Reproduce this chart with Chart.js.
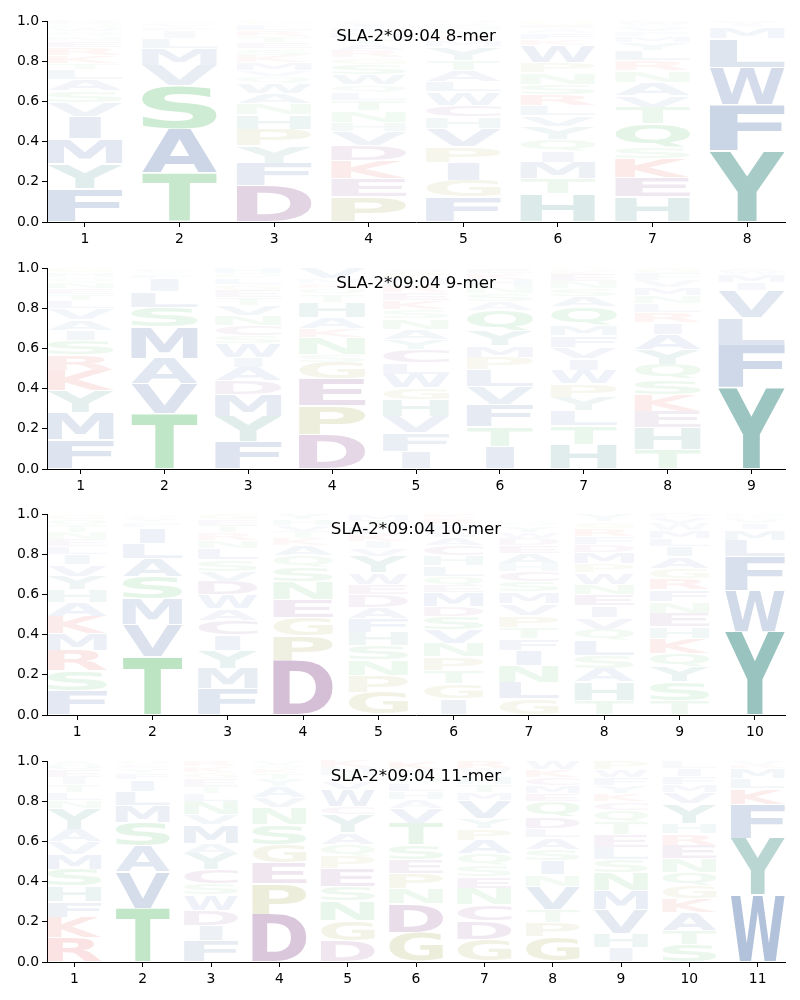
<!DOCTYPE html>
<html><head><meta charset="utf-8">
<script src="https://cdn.jsdelivr.net/npm/chart.js@4.4.0/dist/chart.umd.min.js"></script>
<style>
body{margin:0;background:#fff;width:800px;height:1000px;position:relative;overflow:hidden}
canvas{position:absolute;left:0}
</style></head>
<body>
<canvas id="c1" width="800" height="250" style="top:0px"></canvas>
<canvas id="c2" width="800" height="250" style="top:247px"></canvas>
<canvas id="c3" width="800" height="250" style="top:493px"></canvas>
<canvas id="c4" width="800" height="250" style="top:740px"></canvas>
<script>
// ---------- DATA (letters bottom -> top, heights = probability) ----------
const titles = ["SLA-2*09:04 8-mer", "SLA-2*09:04 9-mer", "SLA-2*09:04 10-mer", "SLA-2*09:04 11-mer"];
const yTickValues = [0, 0.2, 0.4, 0.6, 0.8, 1.0];

const letters8 = [
  "FYMIVSALTKRENQWHGD",
  "TASVMLIFYCQW",
  "DFYPHNAWQVMKSETRLG",
  "PEKDVHNTLQWSGRAYMFIC",
  "FGIPVHCWLATYMRSNEQ",
  "HTMIQYVLRSNPWKFAEG",
  "HEKSQTVANRLYMFVWG",
  "YFWLMIVK"
];
const heights8 = [
  [.166,.124,.124,.11,.07,.058,.058,.05,.03,.04,.04,.03,.025,.02,.02,.015,.01,.01],
  [.245,.22,.215,.10,.083,.05,.035,.015,.012,.01,.008,.007],
  [.18,.113,.086,.083,.07,.058,.05,.05,.033,.03,.04,.035,.035,.03,.03,.03,.03,.017],
  [.124,.09,.09,.078,.07,.045,.055,.05,.04,.04,.05,.05,.035,.035,.03,.03,.03,.025,.02,.013],
  [.124,.083,.088,.078,.09,.058,.06,.066,.05,.058,.05,.066,.03,.025,.025,.02,.015,.014],
  [.14,.075,.08,.058,.058,.066,.05,.05,.058,.05,.058,.05,.083,.03,.03,.025,.02,.019],
  [.124,.095,.095,.058,.116,.083,.06,.064,.058,.05,.05,.04,.03,.025,.025,.017,.01],
  [.353,.229,.187,.144,.055,.015,.01,.007]
];

const letters9 = [
  "FMYKRSIAVLTENQHG",
  "TVAMSLIFYCQ",
  "FYMDAIWSCNVTEGLQH",
  "DPEGSNKAHTQRMV",
  "IFVHGWLCYANSKERMPQ",
  "ITFVLPMYQASNHKE",
  "HTLYPWIVFMQASNEKG",
  "THEKSQYAIRLNMVFG",
  "YFLVIMWA"
];
const heights9 = [
  [.147,.133,.108,.1,.078,.075,.05,.05,.055,.04,.03,.03,.03,.025,.025,.024],
  [.275,.15,.125,.155,.1,.078,.062,.02,.015,.01,.01],
  [.138,.125,.108,.067,.067,.05,.067,.04,.05,.05,.05,.04,.035,.03,.03,.025,.028],
  [.172,.142,.133,.083,.04,.083,.045,.055,.075,.04,.03,.025,.022,.055],
  [.088,.092,.083,.083,.058,.067,.058,.067,.05,.05,.05,.045,.045,.04,.035,.035,.03,.024],
  [.113,.097,.108,.092,.083,.062,.058,.075,.1,.045,.04,.035,.035,.03,.027],
  [.122,.092,.075,.067,.067,.067,.058,.058,.058,.05,.092,.05,.04,.035,.035,.018,.016],
  [.097,.108,.083,.083,.075,.075,.075,.075,.058,.05,.042,.04,.04,.035,.035,.029],
  [.403,.213,.138,.133,.04,.04,.02,.013]
];

const letters10 = [
  "FSRMKAHYVILENTQG",
  "TVMSALIFYCQ",
  "FMYICAWDVSLNRTEG",
  "DPGENSQAKTVHY",
  "GPNSHFADEWYVIKLTM",
  "IGTPNVSDMEQLHCAWFRK",
  "GLNIFTPVMSCHAEDWYQ",
  "THASLQVIENWPMDFRGY",
  "TSYQKHENFRGAILMWVD",
  "YWFLMIVKH"
];
const heights10 = [
  [.122,.1,.1,.083,.087,.067,.063,.067,.058,.05,.04,.035,.035,.035,.03,.028],
  [.29,.158,.128,.112,.092,.075,.075,.025,.02,.015,.01],
  [.13,.1,.092,.075,.075,.058,.067,.067,.05,.058,.058,.04,.035,.035,.03,.03],
  [.272,.123,.092,.088,.087,.072,.058,.05,.035,.035,.03,.03,.028],
  [.113,.083,.078,.07,.067,.067,.058,.062,.05,.058,.083,.04,.035,.035,.035,.035,.031],
  [.08,.075,.067,.067,.067,.067,.067,.05,.067,.037,.047,.05,.05,.05,.04,.035,.03,.03,.024],
  [.08,.083,.083,.075,.058,.058,.058,.058,.058,.05,.05,.042,.05,.04,.035,.03,.03,.022],
  [.072,.092,.067,.063,.075,.058,.058,.058,.058,.05,.058,.042,.058,.04,.04,.04,.035,.036],
  [.072,.092,.075,.067,.075,.058,.067,.058,.058,.058,.05,.058,.05,.04,.04,.035,.03,.017],
  [.417,.203,.167,.083,.05,.03,.025,.015,.01]
];

const letters11 = [
  "RKFHSMVAYNLTIEQA",
  "TVASMLIFYCQ",
  "FIDWSCYAMVNLTEGKR",
  "DPEGSNVAYTKQV",
  "DGNSEPQAYCWVTMK",
  "GDNPESTVAHLQYK",
  "GDCNESQAPYVMTHWR",
  "GPTVNISALDQEMCKW",
  "IHVMNSLETQCKYFWP",
  "STAKGQNERHYVMFIL",
  "WYFKLMRV"
];
const heights11 = [
  [.122,.1,.078,.078,.083,.075,.062,.063,.1,.04,.04,.04,.035,.035,.03,.019],
  [.267,.183,.127,.117,.083,.07,.06,.03,.025,.02,.018],
  [.105,.078,.075,.075,.058,.07,.08,.05,.092,.05,.067,.04,.035,.035,.03,.03,.03],
  [.238,.15,.105,.09,.1,.083,.05,.055,.035,.03,.025,.02,.019],
  [.105,.103,.097,.072,.087,.063,.058,.058,.088,.042,.083,.04,.035,.035,.034],
  [.147,.142,.075,.075,.067,.075,.108,.075,.045,.04,.04,.035,.035,.041],
  [.112,.092,.08,.08,.058,.058,.058,.067,.058,.05,.092,.04,.04,.04,.035,.04],
  [.125,.072,.062,.117,.058,.067,.058,.058,.047,.058,.075,.04,.04,.04,.04,.043],
  [.072,.07,.12,.095,.087,.063,.063,.063,.063,.058,.042,.04,.04,.04,.04,.044],
  [.088,.07,.088,.067,.067,.067,.067,.067,.058,.05,.097,.058,.04,.04,.04,.036],
  [.333,.283,.167,.078,.05,.05,.02,.019]
];

// ---------- STYLE ----------
const groupColor = {};
"AVLIMFW".split("").forEach(c => groupColor[c] = [55, 95, 160]);
"YH".split("").forEach(c => groupColor[c] = [40, 130, 120]);
"STNQ".split("").forEach(c => groupColor[c] = [55, 175, 75]);
"DEC".split("").forEach(c => groupColor[c] = [120, 50, 125]);
"PG".split("").forEach(c => groupColor[c] = [150, 150, 50]);
"KR".split("").forEach(c => groupColor[c] = [220, 60, 50]);

function colorFor(L, h) {
  const c = groupColor[L] || [120, 120, 120];
  const a = Math.max(0.015, Math.min(0.6, 1.15 * h));
  return `rgba(${c[0]},${c[1]},${c[2]},${a.toFixed(3)})`;
}

const FONT_FAMILY = '"DejaVu Sans", "Liberation Sans", sans-serif';
const metricCache = {};
function glyphMetrics(ctx, L) {
  if (metricCache[L]) return metricCache[L];
  ctx.save();
  ctx.font = 'bold 200px ' + FONT_FAMILY;
  const m = ctx.measureText(L);
  ctx.restore();
  const r = {l: m.actualBoundingBoxLeft, r: m.actualBoundingBoxRight, a: m.actualBoundingBoxAscent, d: m.actualBoundingBoxDescent};
  metricCache[L] = r;
  return r;
}

function drawLetter(ctx, L, x0, y0, w, h, color) {
  if (h <= 0.2 || w <= 0) return;
  const m = glyphMetrics(ctx, L);
  const e = glyphMetrics(ctx, 'E');
  const gw = m.l + m.r, gh = m.a + m.d;
  const ew = (e.l + e.r) * 0.86;
  // very narrow glyphs (like I) are not stretched to full width
  const dw = Math.min(w, w * gw / ew);
  const pad = h > 4 ? 0.6 : 0;
  ctx.save();
  ctx.translate(x0 + (w - dw) / 2, y0 + pad);
  ctx.scale(dw / gw, (h - 2 * pad) / gh);
  ctx.font = 'bold 200px ' + FONT_FAMILY;
  ctx.textAlign = 'left';
  ctx.textBaseline = 'alphabetic';
  ctx.fillStyle = color;
  ctx.fillText(L, m.l, m.a);
  ctx.restore();
}

const logoPlugin = {
  id: 'logo',
  afterDatasetsDraw(chart) {
    const ctx = chart.ctx;
    chart.data.datasets.forEach((ds, i) => {
      const meta = chart.getDatasetMeta(i);
      meta.data.forEach((el, j) => {
        const p = el.getProps(['x', 'y', 'base', 'width'], true);
        const top = Math.min(p.y, p.base);
        const hh = Math.abs(p.base - p.y);
        drawLetter(ctx, ds.letters[j], p.x - p.width / 2, top, p.width, hh, colorFor(ds.letters[j], ds.data[j].y));
      });
    });
  },
  afterDraw(chart) {
    const ctx = chart.ctx, a = chart.chartArea;
    ctx.save();
    ctx.font = '16.7px ' + FONT_FAMILY;
    ctx.fillStyle = '#000';
    ctx.textAlign = 'center';
    ctx.textBaseline = 'middle';
    ctx.fillText(chart.options.plugins.logoTitle, (a.left + a.right) / 2, a.top + 15.5);
    ctx.restore();
  }
};

function buildChart(id, title, letters, heights) {
  const n = letters.length;
  const positions = letters.map((_, i) => i + 1);
  const depth = Math.max(...letters.map(s => s.length));
  const datasets = [];
  for (let k = 0; k < depth; k++) {
    const data = [], lets = [];
    for (let p = 0; p < n; p++) {
      if (k < letters[p].length) {
        data.push({x: positions[p], y: heights[p][k]});
        lets.push(letters[p][k]);
      }
    }
    datasets.push({
      data, letters: lets, stack: 's',
      backgroundColor: 'rgba(0,0,0,0)', borderWidth: 0,
      barPercentage: 0.79, categoryPercentage: 1
    });
  }
  const tickFont = {family: FONT_FAMILY, size: 13.9};
  new Chart(document.getElementById(id), {
    type: 'bar',
    data: {datasets},
    plugins: [logoPlugin],
    options: {
      responsive: false, animation: false, devicePixelRatio: 1,
      layout: {padding: {top: 21, right: 15, left: 0, bottom: 0}},
      plugins: {legend: {display: false}, tooltip: {enabled: false}, title: {display: false}, logoTitle: title},
      scales: {
        x: {
          type: 'linear', min: 0.6, max: n + 0.4, stacked: true, offset: false,
          afterBuildTicks: s => { s.ticks = positions.map(v => ({value: v})); },
          afterFit: s => { s.height = 28; },
          grid: {display: true, drawOnChartArea: false, drawTicks: true, tickLength: 5, tickColor: '#000', tickWidth: 1, offset: false},
          border: {display: true, color: '#000', width: 1},
          ticks: {color: '#000', font: tickFont, padding: 4, maxRotation: 0, autoSkip: false, callback: v => String(v)}
        },
        y: {
          min: 0, max: 1, stacked: true,
          afterBuildTicks: s => { s.ticks = yTickValues.map(v => ({value: v})); },
          afterFit: s => { s.width = 47; },
          grid: {display: true, drawOnChartArea: false, drawTicks: true, tickLength: 5, tickColor: '#000', tickWidth: 1},
          border: {display: true, color: '#000', width: 1},
          ticks: {color: '#000', font: tickFont, padding: 3, callback: v => Number(v).toFixed(1)}
        }
      }
    }
  });
}

buildChart('c1', titles[0], letters8, heights8);
buildChart('c2', titles[1], letters9, heights9);
buildChart('c3', titles[2], letters10, heights10);
buildChart('c4', titles[3], letters11, heights11);
</script>
</body></html>
